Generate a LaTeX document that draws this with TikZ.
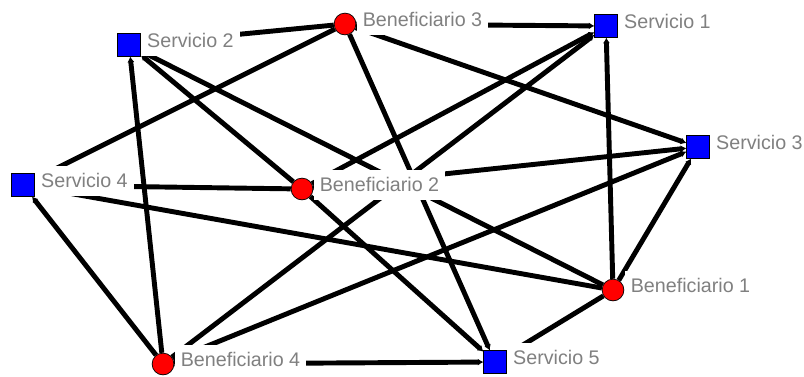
\documentclass[tikz,border=0pt]{standalone}
\usepackage{fontspec}
\setmainfont{Liberation Sans}
\usetikzlibrary{arrows.meta}
\pgfdeclarelayer{bg}
\pgfsetlayers{bg,main}
\begin{document}
\begin{tikzpicture}[x=0.025cm,y=-0.025cm,
        serv/.style={draw=black,line width=0.5pt,fill=blue,minimum size=16pt,inner sep=0pt},
        benef/.style={circle,draw=black,line width=0.5pt,fill=red,minimum size=15.5pt,inner sep=0pt},
        tag/.style={anchor=base west,fill=white,text=black!50,font=\fontsize{14}{16}\selectfont,
            text height=13.6pt,text depth=3.7pt,inner xsep=4.5pt,inner ysep=2pt,yshift=-2.1pt},
        link/.style={line width=3.5pt,-{Latex[length=4pt,width=5pt]}}]
    \useasboundingbox (0,0) rectangle (804,376);
    %% servicios
    \foreach \n/\x/\y/\t in {s1/606/26/Servicio 1,s2/129/45/Servicio 2,s3/698/147/Servicio 3,
            s4/23/185/Servicio 4,s5/495/362/Servicio 5}{
        \node[serv] (\n) at (\x,\y) {};
        \node[tag] (\n-t) at (\n.east) {\t};
    }
    %% beneficiarios
    \foreach \n/\x/\y/\t in {b1/613/290/Beneficiario 1,b2/302/189/Beneficiario 2,
            b3/345/24/Beneficiario 3,b4/163/364/Beneficiario 4}{
        \node[benef] (\n) at (\x,\y) {};
        \node[tag] (\n-t) at (\n.east) {\t};
    }
    %% links
    \begin{pgfonlayer}{bg}
        \foreach \b in {b1,b2,b3,b4}
            \foreach \s in {s1,s2,s3,s4,s5}
                \draw[link] (\b) -- (\s);
    \end{pgfonlayer}
\end{tikzpicture}
\end{document}
